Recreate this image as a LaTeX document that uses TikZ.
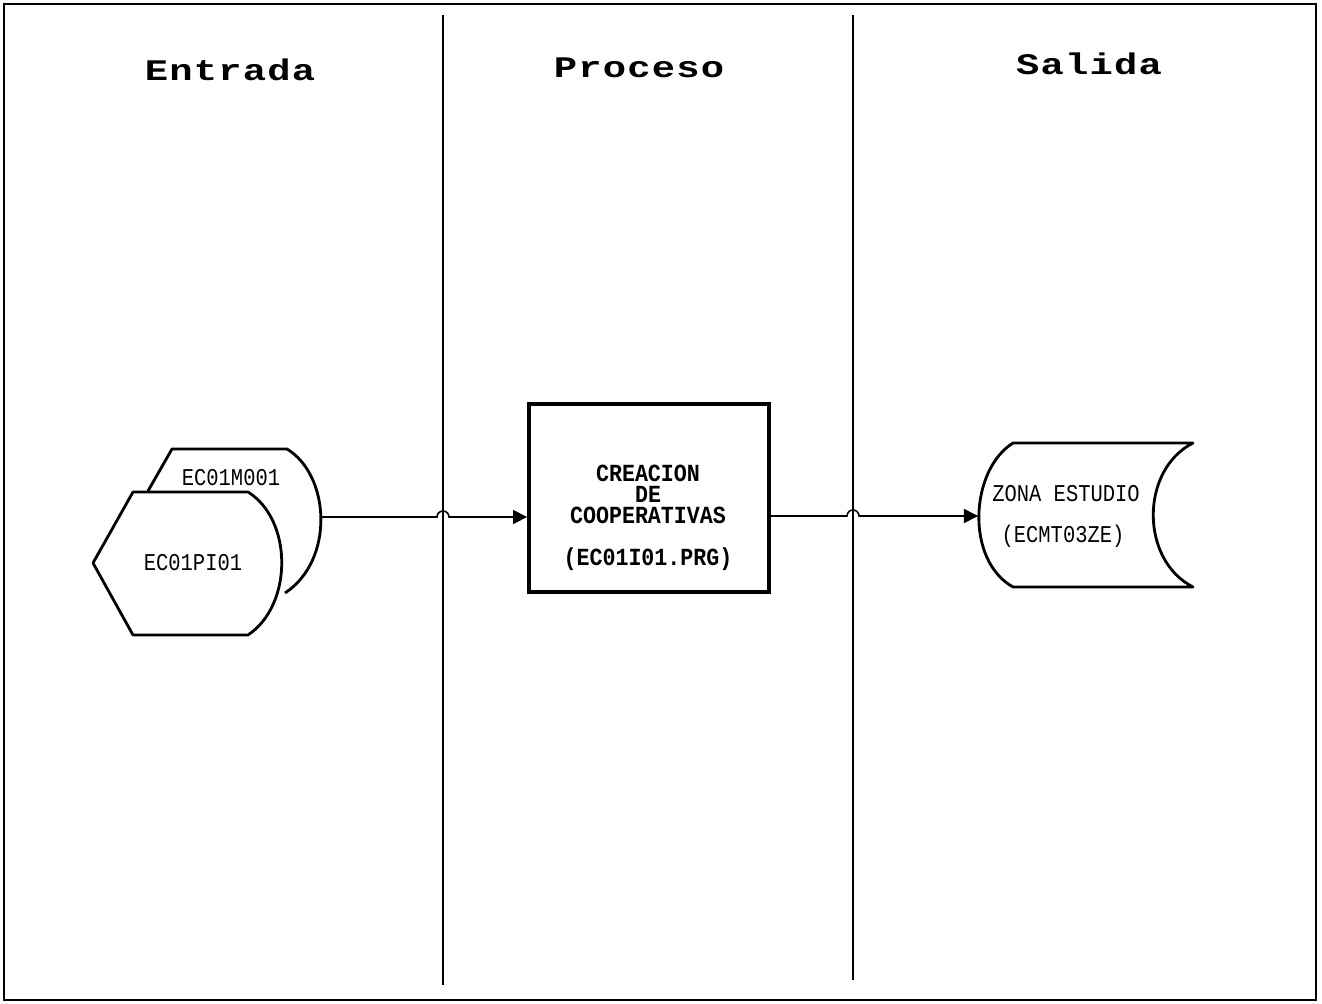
\documentclass[tikz,border=0pt]{standalone}
\usepackage{fontspec}
\usepackage{tikz}
\usetikzlibrary{arrows.meta,calc}
\newfontfamily\headfont{Liberation Mono}[FakeStretch=1.3,LetterSpace=4]
\newfontfamily\boxfont{Liberation Mono}[FakeStretch=0.88]
\newfontfamily\labfont{Liberation Mono}[FakeStretch=0.85]

\begin{document}
\begin{tikzpicture}[x=0.02cm,y=-0.02cm,
    head/.style={font=\headfont\bfseries\fontsize{17}{17}\selectfont},
    lab/.style={font=\labfont\fontsize{13.7}{14}\selectfont,inner sep=0pt},
    outline/.style={line width=1.6pt,line join=round},
    lane/.style={line width=0.8pt},
    flow/.style={line width=0.9pt,-{Triangle[length=8pt,width=8pt]}},
    procbox/.style={draw,line width=2.2pt,minimum width=4.8cm,minimum height=3.76cm,inner sep=0pt},
    proctext/.style={align=center,inner sep=0pt,font=\boxfont\bfseries\fontsize{14}{12}\selectfont}]
                \useasboundingbox (0,0) rectangle (1322,1004);
                \draw[line width=1.2pt] (4,4) rectangle (1316,1000);
                \coordinate (lane1top) at (443,15);
                \coordinate (lane1bot) at (443,985);
                \coordinate (lane2top) at (853,15);
                \coordinate (lane2bot) at (853,980);
                \draw[lane] (lane1top) -- (lane1bot);
                \draw[lane] (lane2top) -- (lane2bot);
                \node[head] (entrada) at (230,70) {Entrada};
                \node[head] (proceso) at (639,68) {Proceso};
                \node[head] (salida) at (1089,64) {Salida};
                \draw[outline] (148,491) -- (172,449) -- (287,449) .. controls (330,475) and (335,560) .. (285,593);
                \draw[outline] (133,492) -- (248,492) .. controls (293,520) and (293,605) .. (248,635) -- (133,635) -- (93,563) -- cycle;
                \node[lab] (m001) at (231,478) {EC01M001};
                \node[lab] (pi01) at (193,563) {EC01PI01};
                \coordinate (m001e) at (321,517);
                \node[procbox] (box) at (649,498) {};
                \node[proctext] (boxtext) at (648,518) {CREACION\\DE\\COOPERATIVAS\\[12pt](EC01I01.PRG)};
                \draw[outline] (1013,443) -- (1193,443) .. controls (1140,470) and (1140,560) .. (1193,587) -- (1013,587) .. controls (965,560) and (970,470) .. (1013,443) -- cycle;
                \node[lab] (zona) at (1066,494) {ZONA ESTUDIO};
                \node[lab] (ecmt) at (1063,536) {(ECMT03ZE)};
                \coordinate (zeW) at (978,516);
                \draw[flow] (m001e) -- ($(lane1top |- m001e)+(-6,0)$) arc[start angle=180,end angle=360,radius=6] -- (box.west |- m001e);
                \draw[flow] (box.east |- zeW) -- ($(lane2top |- zeW)+(-6,0)$) arc[start angle=180,end angle=360,radius=6] -- (zeW);
            \end{tikzpicture}
\end{document}
